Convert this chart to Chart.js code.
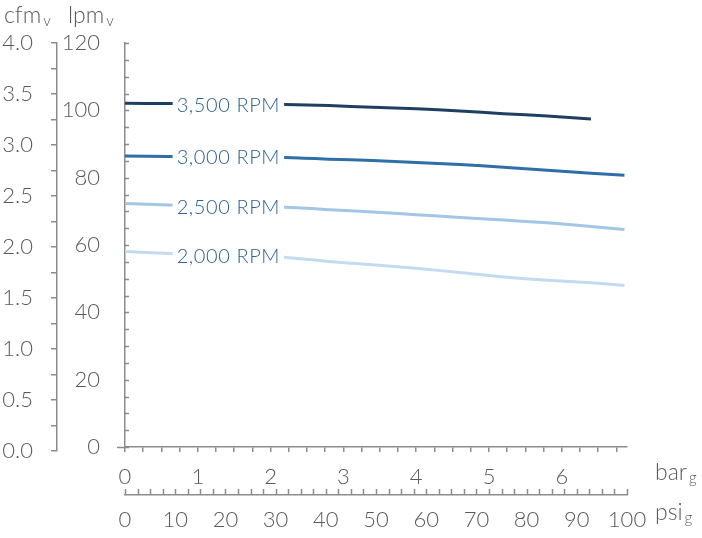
<!DOCTYPE html>
<html>
<head>
<meta charset="utf-8">
<script src="https://cdn.jsdelivr.net/npm/chart.js@4.4.1/dist/chart.umd.min.js"></script>
<style>
  html, body { margin: 0; padding: 0; background: #fff; }
</style>
</head>
<body>
<canvas id="flow-chart" width="702" height="538"></canvas>
<script>
var pressureBar = [0, 0.6, 2.2, 2.8, 3.4, 4.0, 4.6, 5.2, 5.8, 6.4, 6.86];

// free air delivery in lpm at each pressure
var rpm3500 = [102.1, 102.0, 101.7, 101.4, 100.9, 100.5, 99.8, 99.0, 98.3, 97.4, null];
var rpm3000 = [86.4, 86.3, 86.0, 85.5, 85.1, 84.5, 83.9, 83.1, 82.2, 81.3, 80.7];
var rpm2500 = [72.3, 71.9, 71.2, 70.5, 69.8, 69.0, 68.2, 67.4, 66.6, 65.5, 64.6];
var rpm2000 = [58.1, 57.5, 56.3, 55.1, 54.1, 53.1, 51.8, 50.5, 49.5, 48.8, 48.0];

var seriesNames = ['3,500 RPM', '3,000 RPM', '2,500 RPM', '2,000 RPM'];
var seriesColors = ['#1f3f62', '#2f6ea8', '#a3c5e6', '#c3daf0'];

// tick labels
var cfmLabels = [0, 0.5, 1.0, 1.5, 2.0, 2.5, 3.0, 3.5, 4.0];
var lpmLabels = [0, 20, 40, 60, 80, 100, 120];
var barLabels = [0, 1, 2, 3, 4, 5, 6];
var psiLabels = [0, 10, 20, 30, 40, 50, 60, 70, 80, 90, 100];

var axisColor = '#8c8c8c';
var textColor = '#5a5a5a';
var labelColor = '#2e6090';
var fontFamily = 'Lato, "Open Sans", sans-serif';
var labelAt = 1.42; // bar position of the rpm captions

// minor tick steps
var steps = (max, step) => {
  var out = [];
  for (var i = 0; i * step <= max + 1e-9; i++) out.push({value: i * step});
  return out;
};
var hasLabel = (list, v) => list.some(l => Math.abs(l - v) < 1e-6);

var tickFont = {family: fontFamily, size: 22, weight: '300'};

var unitText = (ctx, main, sub, x, y) => {
  ctx.font = '300 23px ' + fontFamily;
  ctx.fillText(main, x, y);
  var w = ctx.measureText(main).width;
  ctx.font = '300 15px ' + fontFamily;
  ctx.fillText(sub, x + w + 2, y + 3);
};

// draws the ticks that chart.js puts on the wrong side, plus unit captions
var axisExtras = {
  id: 'axisExtras',
  afterLayout(chart) {
    var c = chart.scales.cfm;
    c.bottom = chart.chartArea.bottom + 4;
    c.configure();
  },
  afterDraw(chart) {
    var ctx = chart.ctx;
    var y = chart.scales.y, p = chart.scales.psi, x = chart.scales.x;
    ctx.save();
    ctx.strokeStyle = axisColor;
    ctx.lineWidth = 1.5;
    ctx.beginPath();
    y.ticks.forEach(t => {
      var py = Math.round(y.getPixelForValue(t.value)) + 0.5;
      ctx.moveTo(y.right, py);
      ctx.lineTo(y.right + 4, py);
    });
    p.ticks.forEach(t => {
      var px = Math.round(p.getPixelForValue(t.value)) + 0.5;
      ctx.moveTo(px, p.top);
      ctx.lineTo(px, p.top - 6);
    });
    // bar axis line sticks out a little to the left
    ctx.moveTo(x.left - 8, Math.round(x.top) + 0.5);
    ctx.lineTo(x.left, Math.round(x.top) + 0.5);
    ctx.stroke();

    ctx.fillStyle = textColor;
    ctx.textBaseline = 'alphabetic';
    ctx.textAlign = 'left';
    unitText(ctx, 'cfm', 'v', 4, 23);
    unitText(ctx, 'lpm', 'v', 68, 23);
    unitText(ctx, 'bar', 'g', 655, 480);
    unitText(ctx, 'psi', 'g', 655, 520);
    ctx.restore();
  }
};

// rpm captions sitting on the curves
var curveLabels = {
  id: 'curveLabels',
  afterDatasetsDraw(chart) {
    var ctx = chart.ctx;
    var xs = chart.scales.x, ys = chart.scales.y;
    ctx.save();
    ctx.font = '300 20px ' + fontFamily;
    ctx.letterSpacing = '0.6px';
    ctx.textAlign = 'center';
    ctx.textBaseline = 'middle';
    chart.data.datasets.forEach((ds, i) => {
      var k = 0;
      while (pressureBar[k + 1] < labelAt) k++;
      var f = (labelAt - pressureBar[k]) / (pressureBar[k + 1] - pressureBar[k]);
      var v = ds.data[k].y + (ds.data[k + 1].y - ds.data[k].y) * f;
      var px = xs.getPixelForValue(labelAt);
      var py = ys.getPixelForValue(v);
      var w = ctx.measureText(seriesNames[i]).width;
      ctx.fillStyle = '#fff';
      ctx.fillRect(px - w / 2 - 4, py - 10, w + 8, 20);
      ctx.fillStyle = labelColor;
      ctx.fillText(seriesNames[i], px, py + 1);
    });
    ctx.restore();
  }
};

var datasets = [rpm3500, rpm3000, rpm2500, rpm2000].map((values, i) => ({
  label: seriesNames[i],
  data: values.map((v, j) => ({x: pressureBar[j], y: v})),
  borderColor: seriesColors[i],
  backgroundColor: seriesColors[i],
  borderWidth: 3,
  pointRadius: 0,
  tension: 0.2,
  spanGaps: false
}));

var chart = new Chart(document.getElementById('flow-chart').getContext('2d'), {
  type: 'line',
  data: {datasets: datasets},
  plugins: [axisExtras, curveLabels],
  options: {
    responsive: false,
    animation: false,
    devicePixelRatio: 1,
    layout: {padding: {top: 43, right: 75, bottom: 0, left: 0}},
    plugins: {legend: {display: false}, tooltip: {enabled: false}},
    scales: {
      x: {
        type: 'linear', position: 'bottom', weight: 0,
        min: 0, max: 6.895,
        afterBuildTicks: s => { s.ticks = steps(6.75, 0.25); },
        afterFit: s => { s.height = 48; },
        ticks: {
          autoSkip: false, maxRotation: 0, padding: 12, color: textColor, font: tickFont,
          callback: v => hasLabel(barLabels, v) ? String(v) : ''
        },
        grid: {drawOnChartArea: false, tickLength: 5, color: axisColor, lineWidth: 1.5},
        border: {color: axisColor, width: 1.5}
      },
      psi: {
        type: 'linear', position: 'bottom', weight: 1,
        min: 0, max: 100,
        afterBuildTicks: s => { s.ticks = steps(100, 2.5); },
        afterFit: s => { s.height = 43; },
        ticks: {
          autoSkip: false, maxRotation: 0, padding: 12, color: textColor, font: tickFont,
          callback: v => hasLabel(psiLabels, v) ? String(v) : ''
        },
        grid: {display: false, drawTicks: false},
        border: {color: axisColor, width: 1.5}
      },
      y: {
        type: 'linear', position: 'left', weight: 0,
        min: 0, max: 120,
        afterBuildTicks: s => { s.ticks = steps(120, 5); },
        afterFit: s => { s.width = 68; },
        ticks: {
          autoSkip: false, padding: 25, color: textColor, font: tickFont,
          callback: v => hasLabel(lpmLabels, v) ? String(v) : ''
        },
        grid: {display: false, drawTicks: false},
        border: {color: axisColor, width: 1.5}
      },
      cfm: {
        type: 'linear', position: 'left', weight: 1,
        min: 0, max: 4,
        afterBuildTicks: s => { s.ticks = steps(4, 0.25); },
        afterFit: s => { s.width = 57; },
        ticks: {
          autoSkip: false, padding: 18, color: textColor, font: tickFont,
          callback: v => hasLabel(cfmLabels, v) ? v.toFixed(1) : ''
        },
        grid: {drawOnChartArea: false, tickLength: 6, color: axisColor, lineWidth: 1.5},
        border: {color: axisColor, width: 1.5}
      }
    }
  }
});
</script>
</body>
</html>
